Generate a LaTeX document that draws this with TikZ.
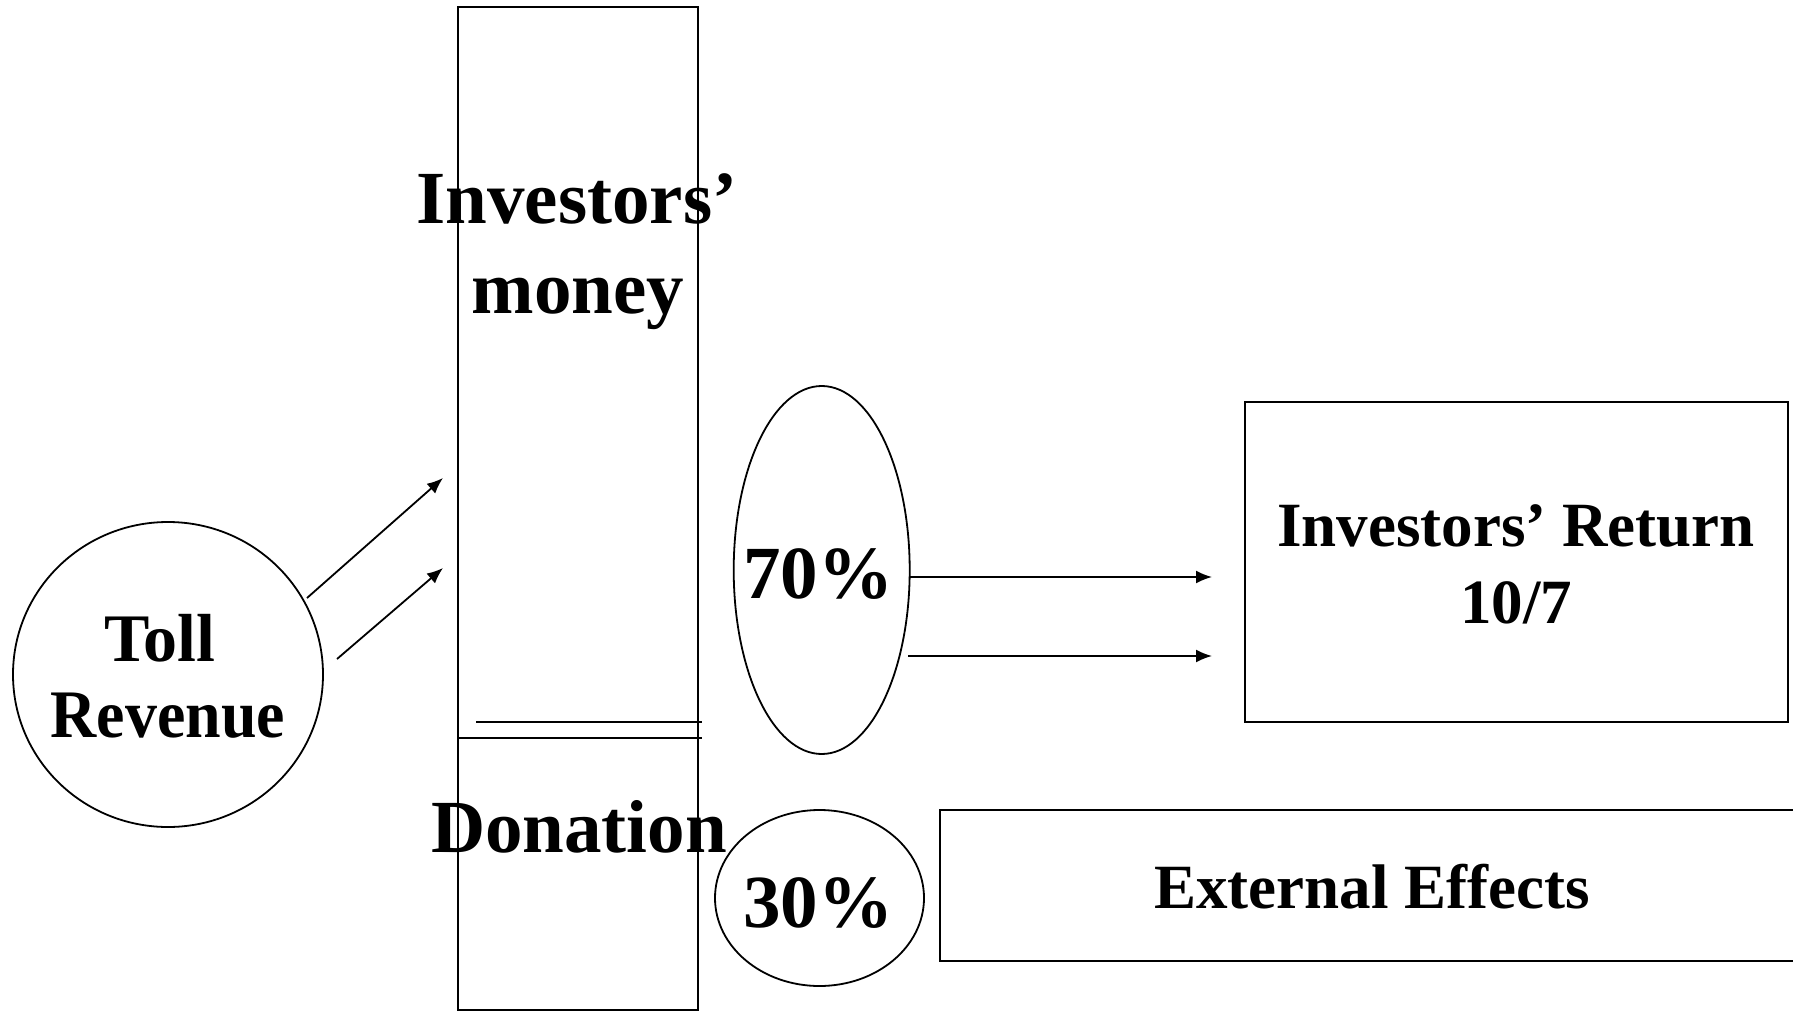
\documentclass[tikz,border=0pt]{standalone}
\usepackage{fontspec}
\setmainfont{Liberation Serif}
\usetikzlibrary{shapes.geometric,arrows.meta}
\begin{document}
\begin{tikzpicture}[x=1pt,y=-1pt,
  shp/.style={draw,line width=1.8pt,inner sep=0pt},
  boxshape/.style={shp,rectangle},
  oval/.style={shp,ellipse},
  lbl/.style={anchor=base,inner sep=0pt,font=\bfseries\fontsize{75}{90}\selectfont},
  lblmid/.style={anchor=base,inner sep=0pt,font=\bfseries\fontsize{68}{80}\selectfont},
  lblsm/.style={anchor=base,inner sep=0pt,font=\bfseries\fontsize{63}{76}\selectfont},
  arr/.style={line width=1.8pt,-{Latex[length=16pt,width=13pt]}},
  plain/.style={line width=1.8pt}]
\useasboundingbox (0,0) rectangle (1793,1011);
\begin{scope}
\clip (0,0) rectangle (1793,1011);
% shapes
\node[boxshape,minimum width=240pt,minimum height=1003pt] (invbox) at (578,508.5) {};
\node[boxshape,minimum width=543pt,minimum height=320pt] (retbox) at (1516.5,562) {};
\node[boxshape,minimum width=860pt,minimum height=151pt] (extbox) at (1370,885.5) {};
\node[oval,minimum width=310pt,minimum height=305pt] (toll) at (168,674.5) {};
\node[oval,minimum width=176pt,minimum height=368pt] (e70) at (821.7,570) {};
\node[oval,minimum width=209pt,minimum height=176pt] (e30) at (819.5,898) {};
% texts
\node[lbl] (t1) at (577,223) {Investors’};
\node[lbl] (t2) at (578,313) {money};
\node[lbl] (t3) at (579,852) {Donation};
\node[lbl] (t70) at (818,598) {70\%};
\node[lbl] (t30) at (818,927) {30\%};
\node[lblmid] (toll1) at (160,661) {Toll};
\node[lblmid] (toll2) at (168,737) {\scalebox{0.94}[1]{Revenue}};
\node[lblsm] (r1) at (1516,546) {Investors’ Return};
\node[lblsm] (r2) at (1516,623) {10/7};
\node[lblsm] (x1) at (1372,908) {External Effects};
% divider lines
\coordinate (h1a) at (476,722);
\coordinate (h1b) at (702,722);
\coordinate (h2a) at (459,738);
\coordinate (h2b) at (702,738);
\draw[plain] (h1a) -- (h1b);
\draw[plain] (h2a) -- (h2b);
% arrows
\coordinate (a1s) at (307,598);
\coordinate (a1e) at (443,478);
\coordinate (a2s) at (337,659);
\coordinate (a2e) at (443,568);
\coordinate (b1s) at (909,577);
\coordinate (b1e) at (1212,577);
\coordinate (b2s) at (908,656);
\coordinate (b2e) at (1212,656);
\draw[arr] (a1s) -- (a1e);
\draw[arr] (a2s) -- (a2e);
\draw[arr] (b1s) -- (b1e);
\draw[arr] (b2s) -- (b2e);
\end{scope}
\end{tikzpicture}
\end{document}
